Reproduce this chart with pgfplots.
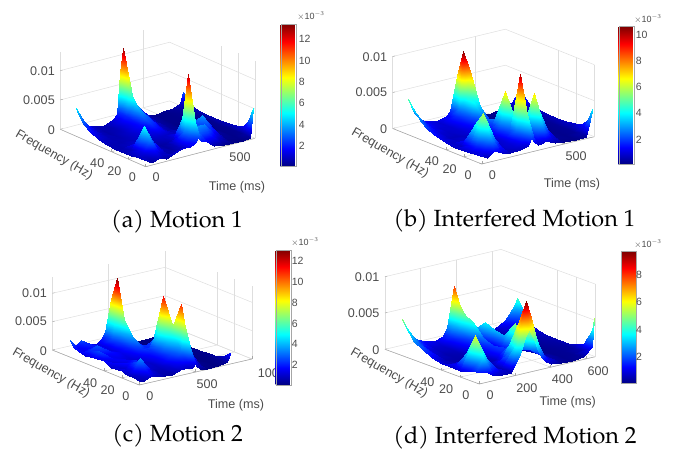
\documentclass[border=0pt]{standalone}
\usepackage{fontspec}
\setmainfont{Liberation Sans}
\newfontfamily\capfont{TeX Gyre Pagella}
\usepackage{pgfplots}
\pgfplotsset{compat=1.18}
\definecolor{tk}{gray}{0.30}
\definecolor{gr}{gray}{0.87}
\pgfplotsset{
 panel/.style={
  colormap/jet,
  anchor=origin, xmin=0, ymin=0, zmin=0, ymax=100,
  axis x line*=bottom, axis y line*=left, axis z line*=left,
  grid=major, major grid style={gr,line width=0.5pt},
  axis line style={gray!70,line width=0.5pt},
  major tick length=2.5pt, tick style={gray!70,line width=0.4pt},
  ytick={0,20,40}, yticklabels={0,20,40},
  ztick={0,5,10}, zticklabels={0,0.005,0.01},
  tick label style={text=tk,font=\fontsize{12.6}{13}\selectfont},
  x tick label style={xshift=5pt,yshift=-2.5pt},
  y tick label style={xshift=-7pt,yshift=-2.5pt},
  z tick label style={xshift=-2pt,yshift=-1.5pt},
  clip=false,
 },
 sf/.style={surf, shader=interp, z buffer=reverse x seq, mesh/rows=12},
 cb/.style={width=15.6pt, scale only axis, xtick=\empty, ytick pos=right,
  axis line style={gray!70,line width=0.4pt},
  tick style={draw=none},
  yticklabel style={text=tk,font=\fontsize{10.5}{11}\selectfont,xshift=-1pt},
  /pgf/number format/assume math mode=true},
}
\begin{document}
\begin{tikzpicture}[x=1pt,y=1pt]
\path[use as bounding box] (0,0) rectangle (673,450);

% (a)
\begin{axis}[panel, at={(145.7pt,283.3pt)}, x={(0.1656pt,0.0430pt)}, y={(-0.854pt,0.374pt)}, z={(0pt,5.87pt)},
 xmax=660, zmax=13.2, xtick={0,500}, xticklabels={0,500}, point meta min=0.07, point meta max=13.4]
\addplot3[sf, mesh/cols=18] coordinates {
(0,82,4.8)(40,82,2.4)(80,82,1.2)(120,82,.8)(170,82,.7)(220,82,1.2)(250,82,2)(270,82,9)(295,82,5.5)(315,82,4.5)(335,82,3.2)(360,82,2.5)(410,82,.7)(470,82,.2)(530,82,.3)(590,82,.5)(630,82,1)(650,82,2.8)
(0,79,4)(40,79,2.2)(80,79,1.1)(120,79,.7)(170,79,.7)(220,79,1.4)(250,79,2.4)(270,79,13.2)(295,79,6.2)(315,79,4.6)(335,79,3.6)(360,79,2.6)(410,79,.7)(470,79,.2)(530,79,.2)(590,79,.4)(630,79,.8)(650,79,2)
(0,72,2.6)(40,72,1.6)(80,72,.9)(120,72,.6)(170,72,.7)(220,72,1.5)(250,72,2.2)(270,72,6.5)(295,72,4.6)(315,72,3.4)(335,72,2.6)(360,72,1.8)(410,72,.6)(470,72,.2)(530,72,.2)(590,72,.3)(630,72,.6)(650,72,1)
(0,65,1.7)(40,65,1.2)(80,65,.8)(120,65,.6)(170,65,.8)(220,65,1.4)(250,65,2)(270,65,4.5)(295,65,3.6)(315,65,3)(335,65,2)(360,65,1.3)(410,65,.5)(470,65,.2)(530,65,.2)(590,65,.3)(630,65,.5)(650,65,.8)
(0,55,1.1)(40,55,.9)(80,55,.7)(120,55,.7)(170,55,1)(220,55,1.5)(250,55,1.9)(270,55,3)(295,55,2.8)(315,55,2.3)(335,55,1.5)(360,55,1)(410,55,.4)(470,55,.15)(530,55,.2)(590,55,.25)(630,55,.4)(650,55,.7)
(0,45,.8)(40,45,.7)(80,45,.7)(120,45,.8)(170,45,1)(220,45,1.3)(250,45,1.6)(270,45,2.2)(295,45,2)(315,45,1.6)(335,45,1.1)(360,45,.7)(410,45,.3)(470,45,.3)(530,45,.15)(590,45,.2)(630,45,.3)(650,45,.7)
(0,35,.7)(40,35,.7)(80,35,.9)(120,35,1.1)(170,35,1)(220,35,.9)(250,35,1)(270,35,1)(295,35,1)(315,35,1)(335,35,.9)(360,35,.9)(410,35,1)(470,35,1.5)(530,35,.3)(590,35,.2)(630,35,.3)(650,35,.8)
(0,25,.7)(40,25,.9)(80,25,2)(120,25,1.7)(170,25,.8)(220,25,.5)(250,25,.6)(270,25,.7)(295,25,1)(315,25,1.6)(335,25,1.6)(360,25,1.8)(410,25,2.5)(470,25,3.8)(530,25,.6)(590,25,.2)(630,25,.3)(650,25,.9)
(0,17,.8)(40,17,1.4)(80,17,5.2)(120,17,2.6)(170,17,.8)(220,17,.5)(250,17,.8)(270,17,1.5)(295,17,2.2)(315,17,5.2)(335,17,3.2)(360,17,3)(410,17,3)(470,17,2.6)(530,17,.4)(590,17,.2)(630,17,.3)(650,17,1.1)
(0,11,.9)(40,11,1.3)(80,11,3.5)(120,11,1.7)(170,11,.7)(220,11,.6)(250,11,.9)(270,11,2)(295,11,3.6)(315,11,12.8)(335,11,5)(360,11,3.6)(410,11,3.5)(470,11,1.6)(530,11,.3)(590,11,.2)(630,11,.35)(650,11,1.6)
(0,6,1)(40,6,.9)(80,6,1.8)(120,6,1.1)(170,6,.6)(220,6,.7)(250,6,.9)(270,6,1.8)(295,6,3)(315,6,6)(335,6,3.6)(360,6,2.8)(410,6,2.4)(470,6,1)(530,6,.2)(590,6,.2)(630,6,.5)(650,6,2.6)
(0,0,1.1)(40,0,.4)(80,0,.9)(120,0,.5)(170,0,.9)(220,0,1.5)(250,0,1.5)(270,0,1.4)(295,0,1.8)(315,0,2.5)(335,0,2)(360,0,1.8)(410,0,.5)(470,0,.2)(530,0,.2)(590,0,.1)(630,0,.3)(650,0,5.2)
};
\end{axis}

% (b)
\begin{axis}[panel, at={(481.7pt,286pt)}, x={(0.16559pt,0.04015pt)}, y={(-0.89pt,0.355pt)}, z={(0pt,7.2pt)},
 xmax=680, zmax=10, xtick={0,500}, xticklabels={0,500}, point meta min=0.07, point meta max=10.6]
\addplot3[sf, mesh/cols=19] coordinates {
(0,83,4.9)(35,83,2.8)(77,83,1.6)(120,83,1.2)(170,83,1)(230,83,1.3)(255,83,1.8)(277,83,4)(300,83,2.6)(320,83,2)(340,83,1.3)(360,83,.9)(386,83,.5)(410,83,.3)(440,83,.2)(500,83,.2)(570,83,.5)(630,83,1)(672,83,2.5)
(0,78,4)(35,78,2.5)(77,78,1.5)(120,78,1.1)(170,78,.9)(230,78,1.5)(255,78,2.2)(277,78,7.5)(300,78,3.4)(320,78,2.5)(340,78,1.6)(360,78,1)(386,78,.5)(410,78,.3)(440,78,.2)(500,78,.2)(570,78,.4)(630,78,.8)(672,78,1.8)
(0,73,3.2)(35,73,2.1)(77,73,1.4)(120,73,1)(170,73,.9)(230,73,1.8)(255,73,2.8)(277,73,10.6)(300,73,4)(320,73,3)(340,73,2)(360,73,1.2)(386,73,.6)(410,73,.35)(440,73,.2)(500,73,.2)(570,73,.3)(630,73,.6)(672,73,1.3)
(0,69,2.6)(35,69,1.8)(77,69,1.2)(120,69,.9)(170,69,.9)(230,69,1.8)(255,69,2.8)(277,69,4.5)(300,69,7.8)(320,69,3.4)(340,69,2.3)(360,69,1.4)(386,69,.7)(410,69,.4)(440,69,.2)(500,69,.2)(570,69,.3)(630,69,.5)(672,69,1)
(0,60,1.8)(35,60,1.3)(77,60,.9)(120,60,.8)(170,60,.9)(230,60,1.5)(255,60,2.2)(277,60,4)(300,60,3.8)(320,60,2.8)(340,60,2)(360,60,1.2)(386,60,.6)(410,60,.35)(440,60,.2)(500,60,.15)(570,60,.25)(630,60,.4)(672,60,.8)
(0,50,1.3)(35,50,1)(77,50,.7)(120,50,.7)(170,50,.9)(230,50,1.3)(255,50,1.8)(277,50,2.4)(300,50,2.2)(320,50,1.7)(340,50,1.2)(360,50,.8)(386,50,.5)(410,50,.3)(440,50,.2)(500,50,.15)(570,50,.2)(630,50,.35)(672,50,.7)
(0,40,1)(35,40,.8)(77,40,.8)(120,40,.9)(170,40,.8)(230,40,1)(255,40,1.4)(277,40,1.8)(300,40,2.6)(320,40,1.4)(340,40,1)(360,40,.8)(386,40,.6)(410,40,.4)(440,40,.25)(500,40,.15)(570,40,.2)(630,40,.3)(672,40,.7)
(0,30,.8)(35,30,.8)(77,30,1.6)(120,30,1.4)(170,30,.7)(230,30,1)(255,30,1.6)(277,30,3)(300,30,7)(320,30,2.8)(340,30,1.4)(360,30,1)(386,30,1.4)(410,30,.9)(440,30,.5)(500,30,.2)(570,30,.2)(630,30,.3)(672,30,.8)
(0,20,.8)(35,20,1.5)(77,20,4.5)(120,20,2.2)(170,20,.7)(230,20,1)(255,20,1.4)(277,20,2.2)(300,20,3.2)(320,20,2.6)(340,20,1.6)(360,20,2.2)(386,20,4.2)(410,20,3)(440,20,1.6)(500,20,.3)(570,20,.2)(630,20,.3)(672,20,.9)
(0,13,.9)(35,13,1.7)(77,13,6)(120,13,2.8)(170,13,.8)(230,13,1)(255,13,1.4)(277,13,2.6)(300,13,10.2)(320,13,5)(340,13,2.2)(360,13,3.6)(386,13,7)(410,13,4.8)(440,13,2.2)(500,13,.3)(570,13,.2)(630,13,.3)(672,13,1.2)
(0,5,1)(35,5,1.3)(77,5,3.2)(120,5,1.8)(170,5,.7)(230,5,.9)(255,5,1.2)(277,5,1.8)(300,5,5)(320,5,2.6)(340,5,1.2)(360,5,1.8)(386,5,3.4)(410,5,2.2)(440,5,1.2)(500,5,.2)(570,5,.2)(630,5,.5)(672,5,2.2)
(0,0,1.2)(35,0,.6)(77,0,1.4)(120,0,.9)(170,0,.6)(230,0,.7)(255,0,.8)(277,0,.9)(300,0,2)(320,0,1.2)(340,0,.7)(360,0,.8)(386,0,1)(410,0,.7)(440,0,.4)(500,0,.2)(570,0,.15)(630,0,.3)(672,0,4.2)
};
\end{axis}

% (c)
\begin{axis}[panel, at={(139.3pt,65pt)}, x={(0.1127pt,0.026pt)}, y={(-0.87pt,0.35pt)}, z={(0pt,5.67pt)},
 xmax=1000, zmax=12.9, xtick={0,500,1000}, xticklabels={0,500,\hspace{14pt}1000}, point meta min=0.08, point meta max=13.06]
\addplot3[sf, mesh/cols=19] coordinates {
(0,80,3)(40,80,1.6)(100,80,2.6)(160,80,1.8)(230,80,1.2)(290,80,2)(315,80,3)(338,80,4.5)(365,80,3)(400,80,1.8)(440,80,1)(466,80,.6)(492,80,.3)(515,80,.2)(540,80,.15)(600,80,.1)(700,80,.2)(780,80,.3)(810,80,.5)
(0,76,2)(40,76,1.6)(100,76,2.2)(160,76,1.8)(230,76,1.2)(290,76,2.4)(315,76,5)(338,76,9)(365,76,4)(400,76,2.4)(440,76,1.2)(466,76,.7)(492,76,.4)(515,76,.25)(540,76,.15)(600,76,.1)(700,76,.15)(780,76,.2)(810,76,.3)
(0,69,1.6)(40,69,1.5)(100,69,1.8)(160,69,2)(230,69,1.3)(290,69,2.6)(315,69,5.5)(338,69,13)(365,69,6)(400,69,3.4)(440,69,1.6)(466,69,.9)(492,69,.5)(515,69,.3)(540,69,.15)(600,69,.1)(700,69,.15)(780,69,.2)(810,69,.2)
(0,62,1.2)(40,62,2.2)(100,62,2.8)(160,62,1.6)(230,62,1.3)(290,62,2.4)(315,62,4)(338,62,6.5)(365,62,4)(400,62,2.8)(440,62,1.5)(466,62,.9)(492,62,.5)(515,62,.3)(540,62,.15)(600,62,.1)(700,62,.15)(780,62,.2)(810,62,.2)
(0,52,1.5)(40,52,2.6)(100,52,1.6)(160,52,1.8)(230,52,1.5)(290,52,2)(315,52,2.8)(338,52,3.8)(365,52,2.8)(400,52,2.2)(440,52,1.6)(466,52,1.2)(492,52,.8)(515,52,.4)(540,52,.15)(600,52,.1)(700,52,.15)(780,52,.2)(810,52,.2)
(0,42,1.8)(40,42,1.2)(100,42,1.6)(160,42,1.4)(230,42,1.2)(290,42,1.6)(315,42,2)(338,42,2.4)(365,42,2.2)(400,42,2)(440,42,2.4)(466,42,3.5)(492,42,1.8)(515,42,.8)(540,42,.3)(600,42,.1)(700,42,.1)(780,42,.2)(810,42,.2)
(0,33,1)(40,33,1.6)(100,33,1.2)(160,33,1.6)(230,33,1)(290,33,1.3)(315,33,1.5)(338,33,1.8)(365,33,2.2)(400,33,3)(440,33,6.5)(466,33,11.5)(492,33,5.5)(515,33,2)(540,33,.8)(600,33,.15)(700,33,.1)(780,33,.2)(810,33,.3)
(0,25,1.4)(40,25,.8)(100,25,1.8)(160,25,2.2)(230,25,1.2)(290,25,1)(315,25,1.3)(338,25,1.6)(365,25,2)(400,25,2.8)(440,25,4.2)(466,25,5.5)(492,25,6.5)(515,25,3.4)(540,25,1.6)(600,25,.2)(700,25,.1)(780,25,.2)(810,25,.3)
(0,16,.9)(40,16,1.4)(100,16,2.8)(160,16,1.6)(230,16,1)(290,16,.9)(315,16,1.1)(338,16,1.4)(365,16,1.8)(400,16,2.4)(440,16,3)(466,16,4.2)(492,16,11)(515,16,6.2)(540,16,3)(600,16,.3)(700,16,.1)(780,16,.2)(810,16,.5)
(0,12,.8)(40,12,1.6)(100,12,3.5)(160,12,1.4)(230,12,.8)(290,12,.8)(315,12,1)(338,12,1.2)(365,12,1.5)(400,12,2)(440,12,2.6)(466,12,3.2)(492,12,8)(515,12,5)(540,12,2.4)(600,12,.3)(700,12,.1)(780,12,.25)(810,12,.7)
(0,6,.9)(40,6,1)(100,6,2)(160,6,1.2)(230,6,.7)(290,6,.7)(315,6,.9)(338,6,1)(365,6,1.2)(400,6,1.5)(440,6,1.7)(466,6,1.8)(492,6,3.8)(515,6,2.6)(540,6,1.2)(600,6,.2)(700,6,.1)(780,6,.3)(810,6,1.2)
(0,0,.7)(40,0,.6)(100,0,1.2)(160,0,.8)(230,0,.6)(290,0,.5)(315,0,.6)(338,0,.8)(365,0,.9)(400,0,1)(440,0,.9)(466,0,.9)(492,0,1.4)(515,0,.8)(540,0,.3)(600,0,.15)(700,0,.1)(780,0,.4)(810,0,2.1)
};
\end{axis}

% (d)
\begin{axis}[panel, at={(479.3pt,66pt)}, x={(0.17846pt,0.042pt)}, y={(-0.943pt,0.347pt)}, z={(0pt,7.26pt)},
 xmax=650, zmax=10, xtick={0,200,400,600}, xticklabels={0,200,400,600}, point meta min=0.05, point meta max=9.7]
\addplot3[sf, mesh/cols=18] coordinates {
(0,82,5)(36,82,3)(80,82,1.8)(130,82,1.2)(180,82,1)(230,82,1.4)(255,82,2.4)(280,82,5)(310,82,3)(330,82,2.2)(350,82,1.6)(375,82,1)(400,82,.6)(460,82,.5)(520,82,.8)(580,82,1.6)(630,82,3.2)(645,82,4.2)
(0,80,4.4)(36,80,2.8)(80,80,1.7)(130,80,1.1)(180,80,1)(230,80,1.6)(255,80,2.8)(280,80,8)(310,80,3.6)(330,80,2.6)(350,80,1.8)(375,80,1.1)(400,80,.6)(460,80,.45)(520,80,.7)(580,80,1.4)(630,80,2.8)(645,80,3.8)
(0,75,3.4)(36,75,2.4)(80,75,1.5)(130,75,.8)(180,75,.8)(230,75,1.7)(255,75,3)(280,75,5.8)(310,75,3.4)(330,75,2.6)(350,75,2)(375,75,1.1)(400,75,.6)(460,75,.4)(520,75,.6)(580,75,1.1)(630,75,2)(645,75,2.6)
(0,70,2.6)(36,70,2)(80,70,1)(130,70,.7)(180,70,.7)(230,70,1.5)(255,70,2.6)(280,70,4.8)(310,70,3.4)(330,70,2.2)(350,70,1.8)(375,70,1)(400,70,.6)(460,70,.3)(520,70,.5)(580,70,.8)(630,70,1.2)(645,70,1.5)
(0,60,1.8)(36,60,1.5)(80,60,.7)(130,60,.5)(180,60,.6)(230,60,1.3)(255,60,1.8)(280,60,4)(310,60,1.8)(330,60,1.6)(350,60,3.6)(375,60,1.2)(400,60,.7)(460,60,.3)(520,60,.35)(580,60,.5)(630,60,.7)(645,60,.8)
(0,50,1.2)(36,50,.8)(80,50,.5)(130,50,.45)(180,50,.5)(230,50,1.2)(255,50,1.5)(280,50,2.4)(310,50,1.5)(330,50,1.3)(350,50,3)(375,50,1)(400,50,.7)(460,50,.25)(520,50,.25)(580,50,.35)(630,50,.5)(645,50,.6)
(0,40,.9)(36,40,.6)(80,40,.5)(130,40,.4)(180,40,.45)(230,40,1)(255,40,1.3)(280,40,1.8)(310,40,1.3)(330,40,1.2)(350,40,2.8)(375,40,1)(400,40,.8)(460,40,.25)(520,40,.2)(580,40,.3)(630,40,.4)(645,40,.5)
(0,28,.8)(36,28,1.4)(80,28,1.6)(130,28,.6)(180,28,.4)(230,28,.6)(255,28,1.1)(280,28,1.6)(310,28,1.8)(330,28,2)(350,28,5)(375,28,1.8)(400,28,1.2)(460,28,.3)(520,28,.2)(580,28,.25)(630,28,.35)(645,28,.6)
(0,20,.9)(36,20,3.2)(80,20,2.4)(130,20,1)(180,20,.6)(230,20,1.2)(255,20,2)(280,20,3)(310,20,2.2)(330,20,2)(350,20,3)(375,20,1.8)(400,20,1.6)(460,20,.5)(520,20,.2)(580,20,.25)(630,20,.35)(645,20,.8)
(0,11,1.2)(36,11,6)(80,11,3)(130,11,1.1)(180,11,.5)(230,11,2.6)(255,11,4.8)(280,11,6.5)(310,11,4)(330,11,3)(350,11,2.2)(375,11,1.6)(400,11,1.3)(460,11,.4)(520,11,.2)(580,11,.25)(630,11,.5)(645,11,1.4)
(0,3,1.5)(36,3,3.4)(80,3,1.6)(130,3,.8)(180,3,.6)(230,3,4.5)(255,3,7.8)(280,3,9.7)(310,3,6.8)(330,3,4.8)(350,3,3)(375,3,1.8)(400,3,1)(460,3,.3)(520,3,.2)(580,3,.3)(630,3,1)(645,3,3.6)
(0,0,1.6)(36,0,1.4)(80,0,.7)(130,0,.5)(180,0,.5)(230,0,2.8)(255,0,4.8)(280,0,6)(310,0,4)(330,0,2.6)(350,0,1.6)(375,0,.9)(400,0,.5)(460,0,.2)(520,0,.15)(580,0,.3)(630,0,1.4)(645,0,5.3)
};
\end{axis}

% colourbars
\pgfplotscolorbardrawstandalone[colormap/jet, point meta min=0.07, point meta max=13.4,
 colorbar style={cb, height=142.7pt, at={(272.2pt,283.3pt)}, anchor=south west, ytick={2,4,6,8,10,12}, yticklabels={2,4,6,8,10,12}}]
\pgfplotscolorbardrawstandalone[colormap/jet, point meta min=0.07, point meta max=10.6,
 colorbar style={cb, height=138pt, at={(610.2pt,285.3pt)}, anchor=south west, ytick={2,4,6,8,10}, yticklabels={2,4,6,8,10}}]
\pgfplotscolorbardrawstandalone[colormap/jet, point meta min=0.08, point meta max=13.06,
 colorbar style={cb, height=135pt, at={(267.2pt,65pt)}, anchor=south west, ytick={2,4,6,8,10,12}, yticklabels={2,4,6,8,10,12}}]
\pgfplotscolorbardrawstandalone[colormap/jet, point meta min=0.05, point meta max=9.7,
 colorbar style={cb, height=132pt, at={(612.5pt,66.3pt)}, anchor=south west, ytick={2,4,6,8}, yticklabels={2,4,6,8}}]

% axis titles and multipliers
\def\lab{\color{tk}\fontsize{12.6}{13}\selectfont}
\def\mul{\color{tk}\fontsize{9}{9}\selectfont}
\node[rotate=-30] at (54,295) {\lab Frequency (Hz)};
\node at (237,263) {\lab Time (ms)};
\node[rotate=-30] at (390,297) {\lab Frequency (Hz)};
\node at (572,266) {\lab Time (ms)};
\node[rotate=-30] at (51,77) {\lab Frequency (Hz)};
\node at (236,45) {\lab Time (ms)};
\node[rotate=-30] at (389,77) {\lab Frequency (Hz)};
\node at (567.7,48) {\lab Time (ms)};
\node at (311,434) {\mul$\times$10$^{-3}$};
\node at (648,431) {\mul$\times$10$^{-3}$};
\node at (305,208) {\mul$\times$10$^{-3}$};
\node at (648,206) {\mul$\times$10$^{-3}$};

% captions
\def\cp{\capfont\fontsize{23.4}{25}\selectfont}
\node at (177,228) {\cp (a) Motion 1};
\node at (514.5,229) {\cp (b) Interfered Motion 1};
\node at (177.5,14) {\cp (c) Motion 2};
\node at (515,12) {\cp (d) Interfered Motion 2};
\end{tikzpicture}
\end{document}
